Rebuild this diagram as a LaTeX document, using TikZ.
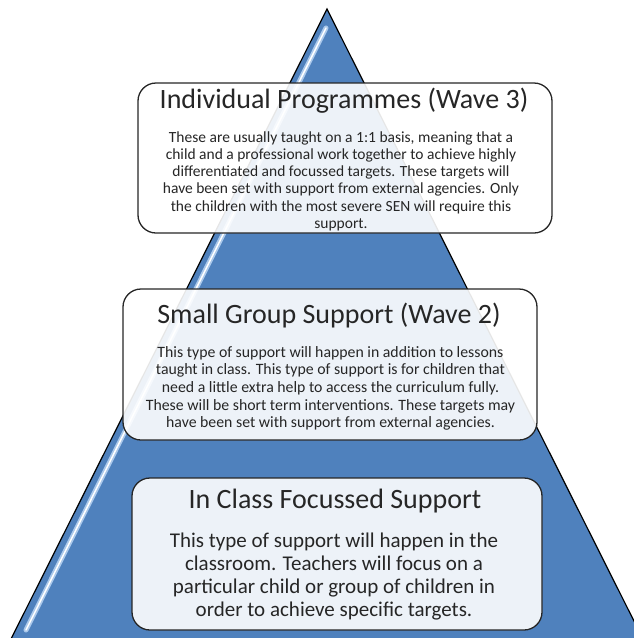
\documentclass[tikz,border=0pt]{standalone}
\usepackage{fontspec}
\setmainfont{Carlito}
\usetikzlibrary{positioning}
\definecolor{waveblue}{RGB}{79,129,189}
\definecolor{edgeglow}{RGB}{170,200,235}
\tikzset{
  level/.style={draw=black!85, line width=1.3pt, rounded corners=18pt, fill=white, fill opacity=0.9, inner sep=0pt},
  heading/.style={anchor=base, inner sep=0pt, text=black!85, font=\fontsize{28}{30}\selectfont},
  blurb/.style={anchor=north, align=center, inner sep=0pt, text=black!85},
}
\begin{document}
\begin{tikzpicture}[x=1pt, y=-1pt]
  \useasboundingbox (0,0) rectangle (633,638);
  % the pyramid
  \draw[fill=waveblue, line width=1.2pt] (327,9) -- (11,639) -- (643,639) -- cycle;
  \draw[edgeglow, line width=5pt, line cap=round] (326,28) -- (26,630);
  \draw[white, line width=1.5pt, line cap=round] (326,28) -- (26,630);
  % wave 3
  \node[level, minimum width=414pt, minimum height=150pt] (wave3) at (345,158) {};
  \node[heading] (title3) at (344,108) {Individual Programmes (Wave 3)};
  \node[blurb, font=\fontsize{15.5}{17.2}\selectfont] (text3) at (341,131.3) {These are usually taught on a 1:1 basis, meaning that a\\child and a professional work together to achieve highly\\differentiated and focussed targets. These targets will\\have been set with support from external agencies. Only\\the children with the most severe SEN will require this\\support.};
  % wave 2
  \node[level, minimum width=414pt, minimum height=151pt] (wave2) at (330,364.5) {};
  \node[heading] (title2) at (329,323) {Small Group Support (Wave 2)};
  \node[blurb, font=\fontsize{15.8}{17.7}\selectfont] (text2) at (330.5,346) {This type of support will happen in addition to lessons\\taught in class. This type of support is for children that\\need a little extra help to access the curriculum fully.\\These will be short term interventions. These targets may\\have been set with support from external agencies.};
  % wave 1
  \node[level, minimum width=410pt, minimum height=152pt] (wave1) at (337,554) {};
  \node[heading] (title1) at (335,508) {In Class Focussed Support};
  \node[blurb, font=\fontsize{21}{23}\selectfont] (text1) at (334,532.3) {This type of support will happen in the\\classroom. Teachers will focus on a\\particular child or group of children in\\order to achieve specific targets.};
\end{tikzpicture}
\end{document}
